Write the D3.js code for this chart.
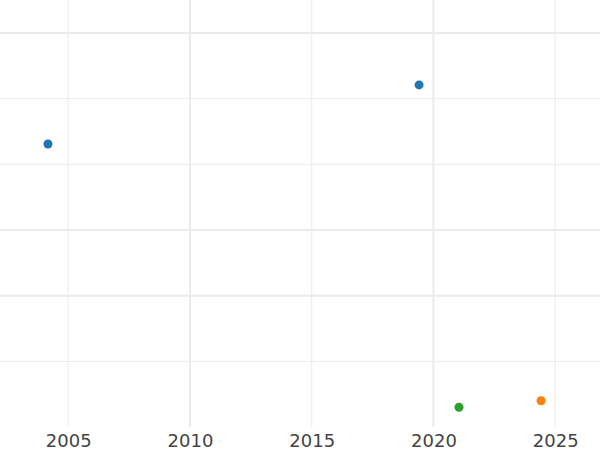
<!DOCTYPE html>
<html><head><meta charset="utf-8">
<script src="https://cdn.jsdelivr.net/npm/d3@7"></script>
<style>body{margin:0;background:#fff}svg{display:block}</style>
</head><body>
<svg id="c" width="600" height="450"></svg>
<script>
const years = [2004.17, 2019.41, 2021.05, 2024.42];
const values = [4.31, 5.21, 0.30, 0.40];
const groups = ["A", "A", "C", "B"];
const groupNames = ["A", "B", "C"];
const groupColors = ["#1f77b4", "#ff7f0e", "#2ca02c"];
const xTicks = [2005, 2010, 2015, 2020, 2025];
const xMajor = [2010, 2020];
const yTicks = [1, 2, 3, 4, 5, 6];
const yMajor = [2, 3, 6];

const svg = d3.select("#c");
const W = 600, plotBottom = 427;
const x = d3.scaleLinear().domain([2002.2, 2026.84]).range([0, W]);
const y = d3.scaleLinear().domain([0, 6]).range([plotBottom, 33]);
const color = d3.scaleOrdinal().domain(groupNames).range(groupColors);

const grid = svg.append("g");
grid.selectAll("line.v").data(xTicks).join("line")
  .attr("x1", d => x(d)).attr("x2", d => x(d))
  .attr("y1", 0).attr("y2", plotBottom)
  .attr("stroke", "#ebebeb")
  .attr("stroke-width", d => xMajor.includes(d) ? 2 : 1);
grid.selectAll("line.h").data(yTicks).join("line")
  .attr("x1", 0).attr("x2", W)
  .attr("y1", d => y(d)).attr("y2", d => y(d))
  .attr("stroke", "#ebebeb")
  .attr("stroke-width", d => yMajor.includes(d) ? 2 : 1);

const xAxis = d3.axisBottom(x).tickValues(xTicks).tickFormat(d3.format("d")).tickSize(0).tickPadding(7);
const ax = svg.append("g").attr("transform", `translate(0,${plotBottom})`).call(xAxis);
ax.select(".domain").remove();
ax.selectAll("text").attr("font-family", "DejaVu Sans").attr("font-size", 18).attr("fill", "#444");

svg.append("g").selectAll("circle").data(years.map((d, i) => i)).join("circle")
  .attr("cx", i => x(years[i])).attr("cy", i => y(values[i]))
  .attr("r", 4.5).attr("fill", i => color(groups[i]));
</script>
</body></html>
